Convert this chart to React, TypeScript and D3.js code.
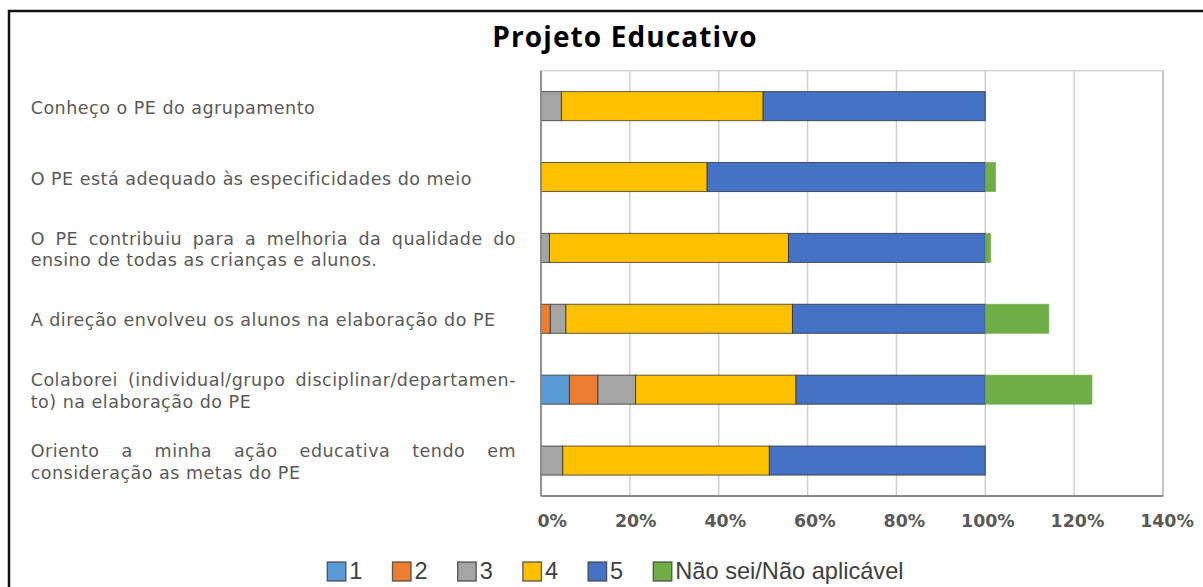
import React from "react";
import * as d3 from "d3";

const categories = [
  "Conheço o PE do agrupamento",
  "O PE está adequado às especificidades do meio",
  "O PE contribuiu para a melhoria da qualidade do ensino de todas as crianças e alunos.",
  "A direção envolveu os alunos na elaboração do PE",
  "Colaborei (individual/grupo disciplinar/departamento) na elaboração do PE",
  "Oriento a minha ação educativa tendo em consideração as metas do PE",
];

// wrapped label lines as printed (first line of multi-line labels is justified)
const labelLines: string[][] = [
  ["Conheço o PE do agrupamento"],
  ["O PE está adequado às especificidades do meio"],
  ["O PE contribuiu para a melhoria da qualidade do", "ensino de todas as crianças e alunos."],
  ["A direção envolveu os alunos na elaboração do PE"],
  ["Colaborei (individual/grupo disciplinar/departamen-", "to) na elaboração do PE"],
  ["Oriento a minha ação educativa tendo em", "consideração as metas do PE"],
];

const seriesNames = ["1", "2", "3", "4", "5", "Não sei/Não aplicável"];
const s1 = [0, 0, 0, 0, 6.4, 0];
const s2 = [0, 0, 0, 2.1, 6.4, 0];
const s3 = [4.6, 0, 1.9, 3.5, 8.5, 4.9];
const s4 = [45.4, 37.4, 53.8, 51.0, 36.1, 46.5];
const s5 = [50.0, 62.6, 44.3, 43.4, 42.6, 48.6];
const sNA = [0, 2.3, 1.2, 14.3, 24.0, 0];
const seriesValues = [s1, s2, s3, s4, s5, sNA];
const colors = ["#5B9BD5", "#ED7D31", "#A5A5A5", "#FFC000", "#4472C4", "#70AD47"];
const ticks = [0, 20, 40, 60, 80, 100, 120, 140];
const title = "Projeto Educativo";

const LABEL_FONT = "17.5px 'DejaVu Sans'";
const LS = 0.5;

let measureCtx: CanvasRenderingContext2D | null = null;
function textWidth(s: string) {
  if (!measureCtx) {
    const c = document.createElement("canvas");
    measureCtx = c.getContext("2d");
  }
  measureCtx!.font = LABEL_FONT;
  return measureCtx!.measureText(s).width + s.length * LS;
}

function JustifiedLine({ text, x0, x1, y }: { text: string; x0: number; x1: number; y: number }) {
  const words = text.split(" ");
  const widths = words.map((w) => textWidth(w));
  const total = widths.reduce((a, b) => a + b, 0);
  const gap = words.length > 1 ? (x1 - x0 - total) / (words.length - 1) : 0;
  let x = x0;
  return (
    <g>
      {words.map((w, i) => {
        const el = (
          <text key={i} x={x} y={y} style={{ font: LABEL_FONT, letterSpacing: `${LS}px` }} fill="#595959">
            {w}
          </text>
        );
        x += widths[i] + gap;
        return el;
      })}
    </g>
  );
}

export default function App() {
  const W = 1203;
  const H = 587;
  const x = d3.scaleLinear().domain([0, 140]).range([541, 1163]);
  const y = d3
    .scaleBand<string>()
    .domain(categories)
    .range([70.7, 496])
    .paddingInner(0.59)
    .paddingOuter(0.295);

  const stack = categories.map((c, ci) => {
    let acc = 0;
    return seriesValues.map((s, si) => {
      const start = acc;
      acc += s[ci];
      return { c, si, start, end: acc, v: s[ci] };
    });
  });

  const labelX0 = 30.7;
  const labelX1 = 516;
  const lineH = 21.5;

  return (
    <svg width={W} height={H} style={{ position: "absolute", left: 0, top: 0 }}>
      <rect x={0} y={0} width={W} height={H} fill="#fff" />
      <rect x={9} y={11} width={1220} height={620} fill="none" stroke="#111" strokeWidth={2.5} />
      <text
        x={625}
        y={46.5}
        textAnchor="middle"
        style={{ font: "bold 28px 'Open Sans'", letterSpacing: "1.1px" }}
        fill="#000"
      >
        {title}
      </text>

      {/* plot frame */}
      <rect x={x(0)} y={70.7} width={x(140) - x(0)} height={496 - 70.7} fill="none" stroke="#d4d4d4" strokeWidth={1.5} />
      {ticks.slice(1, -1).map((t) => (
        <line key={t} x1={x(t)} x2={x(t)} y1={70.7} y2={496} stroke="#d0d0d0" strokeWidth={1.5} />
      ))}
      <line x1={x(140)} x2={x(140)} y1={70.7} y2={496} stroke="#bdbdbd" strokeWidth={1.5} />

      {/* bars */}
      {stack.map((segs, ci) =>
        segs
          .filter((d) => d.v > 0)
          .map((d) => (
            <rect
              key={`${ci}-${d.si}`}
              x={x(d.start)}
              y={y(d.c)!}
              width={x(d.end) - x(d.start)}
              height={y.bandwidth()}
              fill={colors[d.si]}
              stroke={d.si === 5 ? "#6aaa45" : "#2b2b2b"}
              strokeOpacity={d.si === 5 ? 0.6 : 0.75}
              strokeWidth={1}
            />
          ))
      )}

      {/* axes lines */}
      <line x1={x(0)} x2={x(0)} y1={70.7} y2={496} stroke="#8a8a8a" strokeWidth={1.8} />
      <line x1={x(0)} x2={x(140)} y1={496} y2={496} stroke="#8a8a8a" strokeWidth={2} />

      {/* tick labels */}
      {ticks.map((t) => (
        <text
          key={t}
          x={x(t) + 26 + t * 0.035}
          y={526.7}
          textAnchor="end"
          style={{ font: "bold 17.4px 'DejaVu Sans'" }}
          fill="#595959"
        >
          {t}%
        </text>
      ))}

      {/* category labels */}
      {labelLines.map((lines, ci) => {
        const cy = y(categories[ci])! + y.bandwidth() / 2;
        const base = cy + 7.5 - ((lines.length - 1) * lineH) / 2;
        return lines.map((ln, li) =>
          lines.length > 1 && li === 0 ? (
            <JustifiedLine key={`${ci}-${li}`} text={ln} x0={labelX0} x1={labelX1} y={base} />
          ) : (
            <text
              key={`${ci}-${li}`}
              x={labelX0}
              y={base + li * lineH}
              style={{ font: LABEL_FONT, letterSpacing: `${LS}px` }}
              fill="#595959"
            >
              {ln}
            </text>
          )
        );
      })}

      {/* legend */}
      {seriesNames.map((n, i) => {
        const lx = 327.3 + i * 65.2;
        return (
          <g key={n}>
            <rect x={lx} y={562} width={18.5} height={19} fill={colors[i]} stroke="#404040" strokeWidth={1.4} strokeOpacity={0.8} />
            <text x={lx + 22} y={578.5} style={{ font: "23.6px 'Liberation Sans'" }} fill="#404040">
              {n}
            </text>
          </g>
        );
      })}
    </svg>
  );
}
